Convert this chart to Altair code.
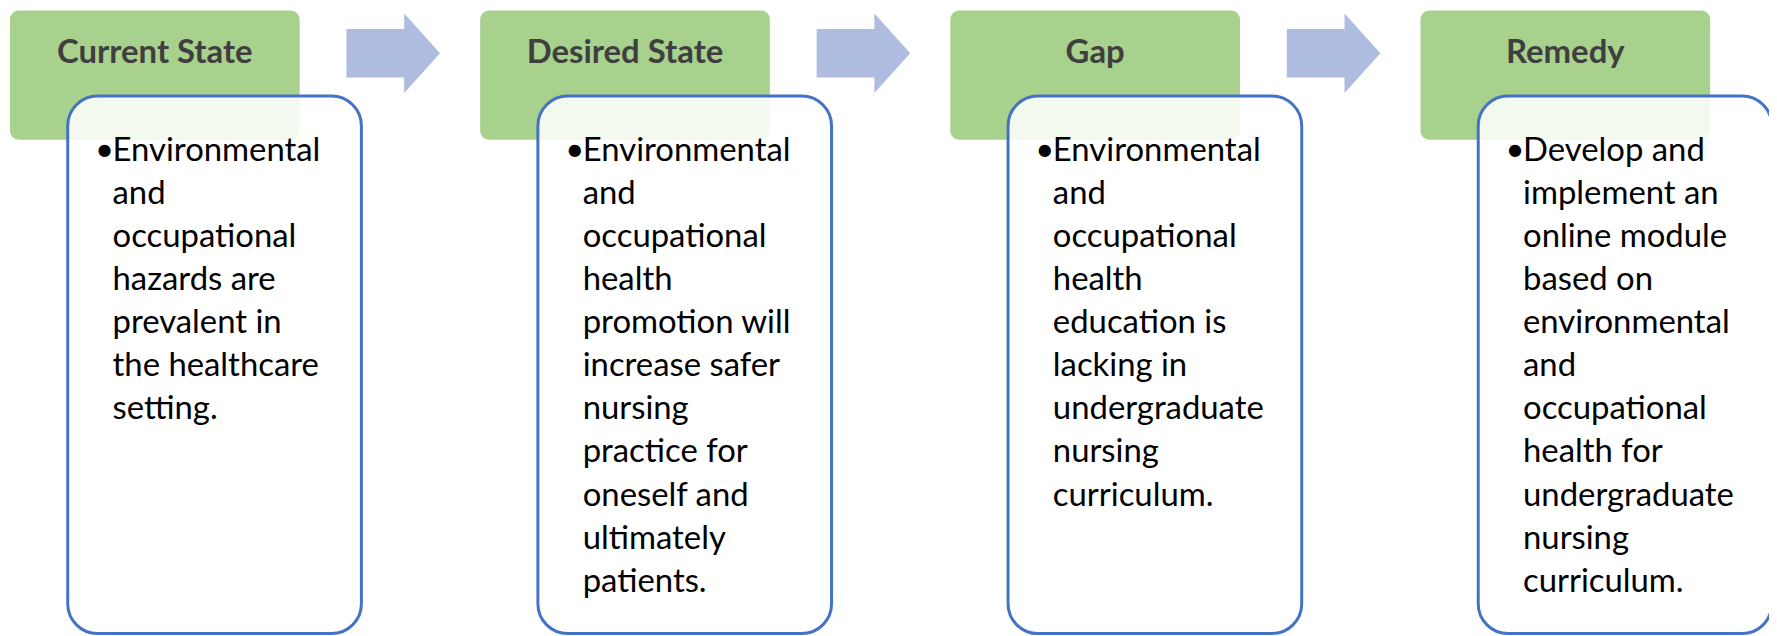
import altair as alt
import pandas as pd

# ---- content ----
headers = ["Current State", "Desired State", "Gap", "Remedy"]
body_current = ["Environmental", "and", "occupational", "hazards are", "prevalent in",
                "the healthcare", "setting."]
body_desired = ["Environmental", "and", "occupational", "health", "promotion will",
                "increase safer", "nursing", "practice for", "oneself and", "ultimately",
                "patients."]
body_gap = ["Environmental", "and", "occupational", "health", "education is",
            "lacking in", "undergraduate", "nursing", "curriculum."]
body_remedy = ["Develop and", "implement an", "online module", "based on",
               "environmental", "and", "occupational", "health for", "undergraduate",
               "nursing", "curriculum."]
bodies = [body_current, body_desired, body_gap, body_remedy]

# ---- layout (page pixel coordinates) ----
W, H, M = 1777, 636, 8
step = 472.3
green_x0, green_w, green_y0, green_y1 = 10, 291, 9, 139
white_x0, white_w, white_y0, white_y1 = 68, 295, 95, 635
arrow_cx, arrow_cy = 395, 52
header_base = 62
line0, line_gap = 160, 43.3
bullet_dx, text_dx = 37, 45

green_rows, white_rows, head_rows, body_rows, bullet_rows, arrow_rows = [], [], [], [], [], []
for i, (h, lines) in enumerate(zip(headers, bodies)):
    gx = green_x0 + i * step
    wx = white_x0 + i * step
    green_rows.append(dict(x=gx, x2=gx + green_w, y=green_y0, y2=green_y1))
    white_rows.append(dict(x=wx, x2=wx + white_w, y=white_y0, y2=white_y1))
    head_rows.append(dict(x=gx + green_w / 2, y=header_base, t=h))
    bullet_rows.append(dict(x=wx + bullet_dx, y=line0, t="•"))
    for j, ln in enumerate(lines):
        body_rows.append(dict(x=wx + text_dx, y=line0 + j * line_gap, t=ln))
    if i < 3:
        arrow_rows.append(dict(x=arrow_cx + i * step, y=arrow_cy))

xs = alt.Scale(domain=[M, W], range=[0, W - M], nice=False, zero=False)
ys = alt.Scale(domain=[H, M], nice=False, zero=False)
X = lambda f="x": alt.X(f"{f}:Q", scale=xs, axis=None)
Y = lambda f="y": alt.Y(f"{f}:Q", scale=ys, axis=None)

green = alt.Chart(pd.DataFrame(green_rows)).mark_rect(
    color="#A9D18E", cornerRadius=9
).encode(x=X(), x2="x2:Q", y=Y(), y2="y2:Q")

white = alt.Chart(pd.DataFrame(white_rows)).mark_rect(
    fill="#FFFFFF", fillOpacity=0.87, stroke="#4472C4", strokeWidth=3, cornerRadius=30
).encode(x=X(), x2="x2:Q", y=Y(), y2="y2:Q")

arrow_path = "M-1,-0.52L0.234,-0.52L0.234,-0.851L1,0L0.234,0.851L0.234,0.52L-1,0.52Z"
arrows = alt.Chart(pd.DataFrame(arrow_rows)).mark_point(
    shape=arrow_path, size=94 * 94, filled=True, color="#AEBCDF", opacity=1, strokeWidth=0
).encode(x=X(), y=Y())

heads = alt.Chart(pd.DataFrame(head_rows)).mark_text(
    font="Lato", fontWeight="bold", fontSize=33, color="#3F3F3F",
    align="center", baseline="alphabetic"
).encode(x=X(), y=Y(), text="t:N")

bullets = alt.Chart(pd.DataFrame(bullet_rows)).mark_text(
    font="Lato", fontSize=33, color="#000000", align="center", baseline="alphabetic"
).encode(x=X(), y=Y(), text="t:N")

body = alt.Chart(pd.DataFrame(body_rows)).mark_text(
    font="Lato", fontSize=33, color="#000000", align="left", baseline="alphabetic"
).encode(x=X(), y=Y(), text="t:N")

chart = alt.layer(green, white, arrows, heads, bullets, body).properties(
    width=W - M, height=H - M, background="#FFFFFF", padding=0,
    autosize=alt.AutoSizeParams(type="none")
).configure_view(stroke=None)

chart.save("out.html", embed_options={"renderer": "svg", "actions": False})
